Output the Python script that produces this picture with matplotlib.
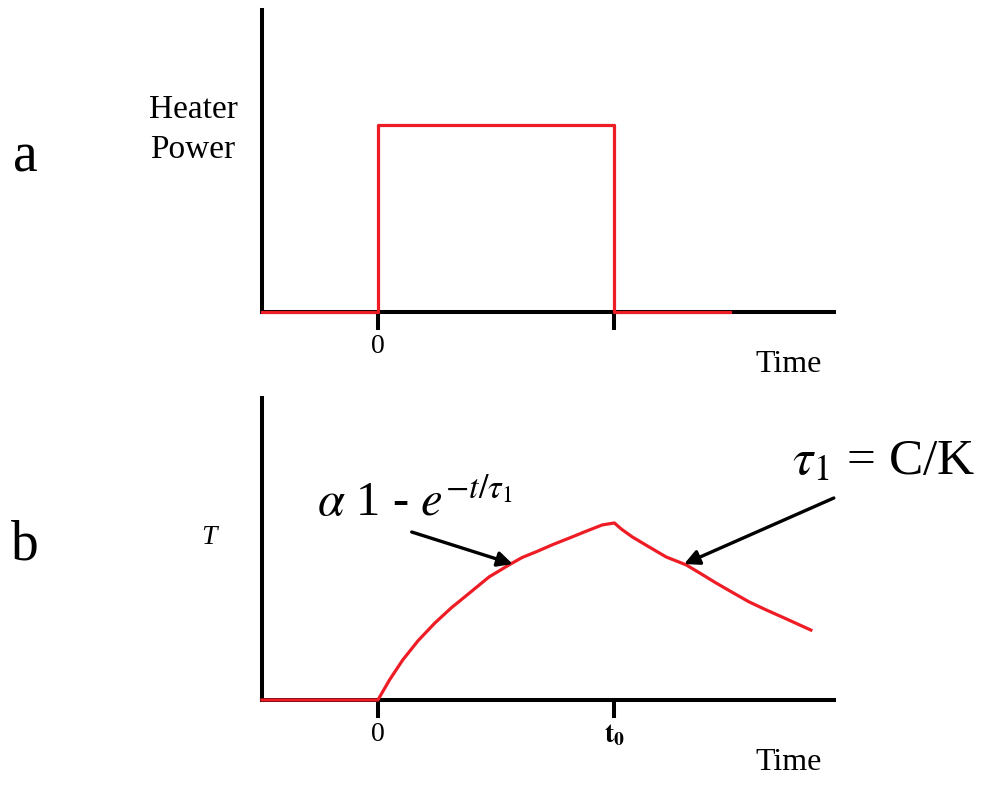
import matplotlib
matplotlib.use('Agg')
import matplotlib.pyplot as plt

plt.rcParams['font.family'] = ['Liberation Serif', 'DejaVu Serif']
plt.rcParams['mathtext.fontset'] = 'stix'

RED = '#ee1c25'
AXIS_LW = 2.9
CURVE_LW = 2.3

# Heater power pulse (time in units of t0, power normalised)
power_t = [-0.49, 0.0, 0.0, 1.0, 1.0, 1.49]
power = [0, 0, 1, 1, 0, 0]

# Temperature response, normalised to the peak at t0
temp_t = [-0.49, 0.0, 0.05, 0.105, 0.17, 0.241, 0.31, 0.388, 0.47, 0.557,
          0.61, 0.671, 0.74, 0.810, 0.88, 0.949, 1.0,
          1.03, 1.076, 1.14, 1.219, 1.304, 1.37, 1.430, 1.50, 1.570,
          1.64, 1.709, 1.77, 1.831]
temp = [0.0, 0.0, 0.115, 0.226, 0.335, 0.435, 0.52, 0.605, 0.695, 0.765,
        0.805, 0.838, 0.878, 0.915, 0.953, 0.989, 1.0,
        0.965, 0.921, 0.87, 0.808, 0.763, 0.71, 0.661, 0.607, 0.554,
        0.51, 0.469, 0.432, 0.395]

X_MIN, X_MAX = -0.49, 1.93

fig = plt.figure(figsize=(9.85, 7.85), dpi=100)
ax1 = fig.add_axes([0.266, 0.6025, 0.581, 0.3847])
ax2 = fig.add_axes([0.266, 0.1083, 0.581, 0.3847])


def style_axes(ax, ytop, labels):
    ax.set_xlim(X_MIN, X_MAX)
    ax.set_ylim(0, ytop)
    for side in ('top', 'right'):
        ax.spines[side].set_visible(False)
    for side in ('left', 'bottom'):
        ax.spines[side].set_linewidth(AXIS_LW)
        ax.spines[side].set_color('black')
    ax.set_yticks([])
    ax.set_xticks([0, 1])
    ax.set_xticklabels(labels)
    ax.tick_params(axis='x', direction='out', length=13, width=AXIS_LW,
                   pad=3, labelsize=20)


style_axes(ax1, 1.615, ['0', ''])
style_axes(ax2, 1.706, ['0', r'$\mathbf{t_0}$'])

ax1.plot(power_t, power, color=RED, lw=CURVE_LW, zorder=3, clip_on=False)
ax2.plot(temp_t, temp, color=RED, lw=CURVE_LW, zorder=3, clip_on=False)

# panel letters and axis labels
fig.text(25 / 985, 1 - 158 / 785, 'a', fontsize=40, ha='center', va='center')
fig.text(25 / 985, 1 - 545 / 785, 'b', fontsize=40, ha='center', va='center')
fig.text(193 / 985, 1 - 130 / 785, 'Heater\nPower', fontsize=24,
         ha='center', va='center', linespacing=1.4)
fig.text(209 / 985, 1 - 537 / 785, 'T', fontsize=20, style='italic',
         ha='center', va='center')
fig.text(789 / 985, 1 - 365 / 785, 'Time', fontsize=23, ha='center', va='center')
fig.text(789 / 985, 1 - 762 / 785, 'Time', fontsize=23, ha='center', va='center')

arrow = dict(arrowstyle='-|>,head_length=0.9,head_width=0.45', color='black',
             lw=2.4, shrinkA=0, shrinkB=0)

ax2.annotate('', xy=(0.570, 0.768), xytext=(0.143, 0.949),
             arrowprops=arrow, annotation_clip=False)
ax2.annotate('', xy=(1.295, 0.768), xytext=(1.928, 1.141),
             arrowprops=arrow, annotation_clip=False)

fig.text(415 / 985, 1 - 502 / 785, r'$\alpha$ 1 - $e^{-t/\tau_1}$',
         fontsize=35, ha='center', va='center')
fig.text(884 / 985, 1 - 462 / 785, r'$\tau_1$ = C/K',
         fontsize=37, ha='center', va='center')

fig.savefig('out.png', dpi=100, facecolor='white')
